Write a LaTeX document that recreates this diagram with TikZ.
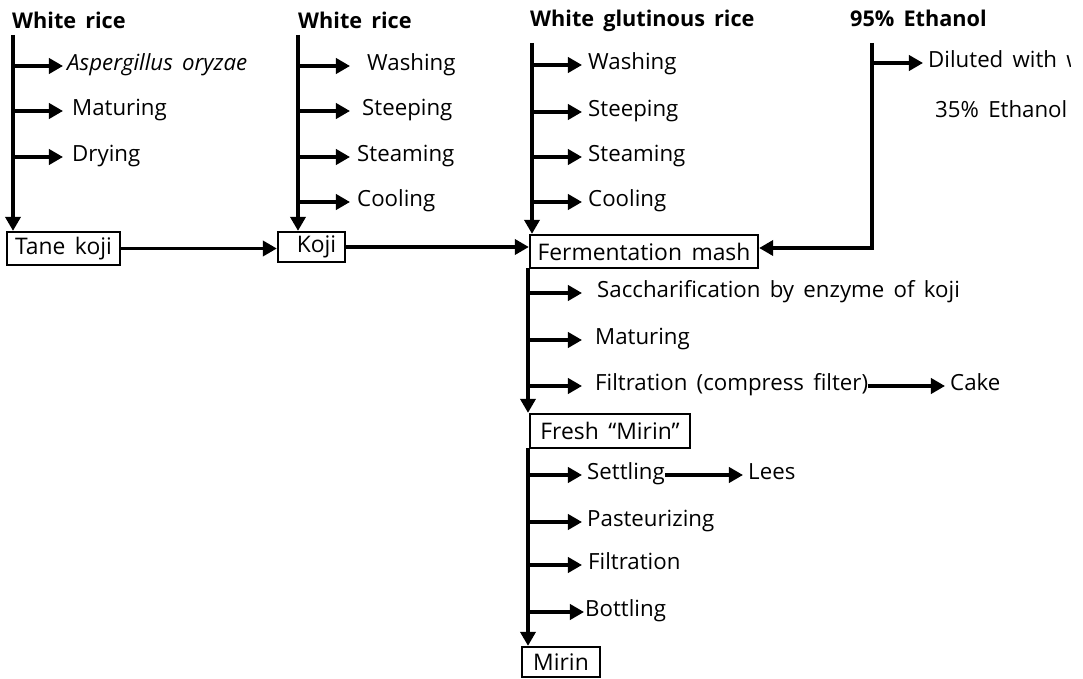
\documentclass[tikz,border=0pt]{standalone}
\usepackage{fontspec}
\setmainfont{Open Sans}[WordSpace=1.6]
\usetikzlibrary{arrows.meta}

\begin{document}
\begin{tikzpicture}[
    x=0.03cm,y=-0.03cm,
    every node/.style={font=\fontsize{19}{23}\selectfont},
    head/.style={font=\fontsize{18.5}{22}\selectfont\bfseries,anchor=base west,inner sep=0pt},
    stage/.style={anchor=west,inner sep=0pt,text height=0.72em,text depth=0pt},
    box/.style={draw,line width=2pt,inner sep=1pt,font=\fontsize{19.5}{23}\selectfont},
    flow/.style={line width=2.8pt,-{Triangle[length=12pt,width=13pt]}},
  ]
    \useasboundingbox (0,0) rectangle (1083,679);
    \clip (0,0) rectangle (1083,679);

    % column 1: tane koji
    \node[head] (rice1) at (12,29) {White rice};
    \coordinate (c1) at (13,35);
    \node[box,minimum width=3.39cm,minimum height=0.99cm] (tane) at (63.5,248.5) {Tane koji};
    \draw[flow] (c1) -- (c1 |- tane.north);
    \foreach \name/\y/\xt/\gap/\txt in {asp/66/67/4/\textit{Aspergillus oryzae},mat1/111/72/9/Maturing,dry/157/72/9/Drying}{
      \node[stage] (\name) at (\xt,\y) {\txt};
      \draw[flow] (c1 |- \name.west) -- ([xshift=-\gap*0.03cm]\name.west);
    }

    % column 2: koji
    \node[head] (rice2) at (298,29) {White rice};
    \coordinate (c2) at (298,35);
    \node[box,minimum width=2.01cm,minimum height=0.9cm] (koji) at (311.5,247) {\hspace{3mm}Koji};
    \draw[flow] (c2) -- (c2 |- koji.north);
    \foreach \name/\y/\xt/\gap/\txt in {wash2/66/367/17/Washing,steep2/111/362/12/Steeping,steam2/157/357/7/Steaming,cool2/202/357/7/Cooling}{
      \node[stage] (\name) at (\xt,\y) {\txt};
      \draw[flow] (c2 |- \name.west) -- ([xshift=-\gap*0.03cm]\name.west);
    }

    % column 3: fermentation mash
    \node[head] (grice) at (530,27) {White glutinous rice};
    \coordinate (c3) at (532,43);
    \node[box,minimum width=6.84cm,minimum height=0.99cm] (ferm) at (644,251.5) {Fermentation mash};
    \draw[flow] (c3) -- (c3 |- ferm.north);
    \foreach \name/\y/\xt/\gap/\txt in {wash3/65/588/6/Washing,steep3/112/588/6/Steeping,steam3/157/588/6/Steaming,cool3/202/588/6/Cooling}{
      \node[stage] (\name) at (\xt,\y) {\txt};
      \draw[flow] (c3 |- \name.west) -- ([xshift=-\gap*0.03cm]\name.west);
    }

    % column 4: ethanol
    \node[head] (eth95) at (850,27) {95\% Ethanol};
    \coordinate (c4) at (872,43);
    \coordinate (c4b) at (872,248);
    \begin{scope}
      \clip (0,0) rectangle (1070,679);
      \node[stage] (dil) at (928,63) {Diluted with water};
      \node[stage] (eth35) at (935,113) {35\% Ethanol};
    \end{scope}
    \draw[flow] (c4 |- dil.west) -- ([xshift=-5*0.03cm]dil.west);
    \draw[flow] (c4) -- (c4b) -- (c4b -| ferm.east);

    \draw[flow] (tane.east) -- (tane.east -| koji.west);
    \draw[flow] (koji.east) -- (koji.east -| ferm.west);

    % mash to fresh mirin
    \coordinate (c5) at (528,268);
    \node[box,minimum width=4.8cm,minimum height=1.02cm] (fresh) at (610,431) {Fresh “Mirin”};
    \draw[flow] (c5) -- (c5 |- fresh.north);
    \foreach \name/\y/\xt/\gap/\txt in {sacch/293/597/15/Saccharification by enzyme of koji,mat3/340/595/13/Maturing,filt1/386/595/13/Filtration (compress filter)}{
      \node[stage] (\name) at (\xt,\y) {\txt};
      \draw[flow] (c5 |- \name.west) -- ([xshift=-\gap*0.03cm]\name.west);
    }
    \node[stage] (cake) at (950,386) {Cake};
    \draw[flow] (filt1.east) -- ([xshift=-5*0.03cm]cake.west);

    % fresh mirin to mirin
    \coordinate (c6) at (528,448);
    \node[box,minimum width=2.34cm,minimum height=0.9cm] (mirin) at (561,662) {Mirin};
    \draw[flow] (c6) -- (c6 |- mirin.north);
    \foreach \name/\y/\xt/\gap/\txt in {settle/475/587/5/Settling,past/522/587/5/Pasteurizing,filt2/565/588/6/Filtration,bottle/612/585/1/Bottling}{
      \node[stage] (\name) at (\xt,\y) {\txt};
      \draw[flow] (c6 |- \name.west) -- ([xshift=-\gap*0.03cm]\name.west);
    }
    \node[stage] (lees) at (748,475) {Lees};
    \draw[flow] (settle.east) -- ([xshift=-5*0.03cm]lees.west);
\end{tikzpicture}
\end{document}
